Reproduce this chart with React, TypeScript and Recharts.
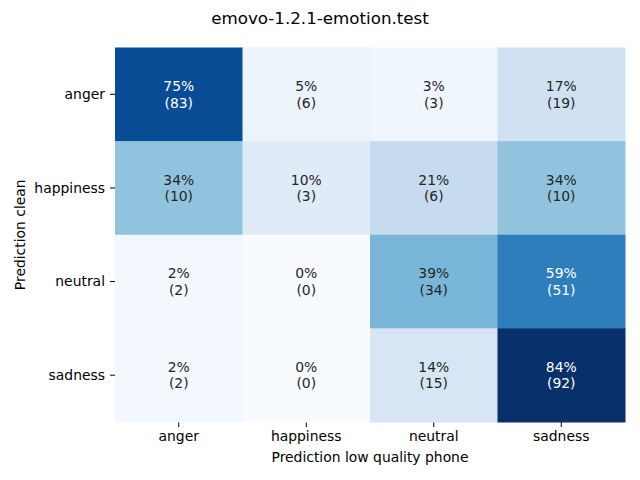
import { ScatterChart, Scatter, XAxis, YAxis, Label } from 'recharts';

const labels = ['anger', 'happiness', 'neutral', 'sadness'];

// rows = clean prediction, columns = low quality phone prediction
const percents = [
  [75, 5, 3, 17],
  [34, 10, 21, 34],
  [2, 0, 39, 59],
  [2, 0, 14, 84],
];

const counts = [
  [83, 6, 3, 19],
  [10, 3, 6, 10],
  [2, 0, 34, 51],
  [2, 0, 15, 92],
];

const blues = ['#f7fbff', '#deebf7', '#c6dbef', '#9ecae1', '#6baed6', '#4292c6', '#2171b5', '#08519c', '#08306b'];

const hexToRgb = (h: string) => [1, 3, 5].map((i) => parseInt(h.slice(i, i + 2), 16));

const blueScale = (t: number) => {
  const p = Math.max(0, Math.min(1, t)) * (blues.length - 1);
  const i = Math.min(Math.floor(p), blues.length - 2);
  const f = p - i;
  const a = hexToRgb(blues[i]);
  const b = hexToRgb(blues[i + 1]);
  const c = a.map((v, k) => Math.round(v + (b[k] - v) * f));
  return { fill: `rgb(${c.join(',')})`, lum: (0.299 * c[0] + 0.587 * c[1] + 0.114 * c[2]) / 255 };
};

const vmax = Math.max(...percents.flat());

const cells = percents.flatMap((row, r) =>
  row.map((pct, c) => ({ x: c + 0.5, y: r + 0.5, pct, n: counts[r][c] }))
);

const W = 640;
const H = 480;
const margin = { top: 47.5, right: 15, bottom: 18, left: 40 };
const yAxisWidth = 75;
const xAxisHeight = 40;
const cellW = (W - margin.left - margin.right - yAxisWidth) / labels.length;
const cellH = (H - margin.top - margin.bottom - xAxisHeight) / labels.length;
const font = 'DejaVu Sans, sans-serif';

const HeatCell = (props: any) => {
  const { cx, cy, payload } = props;
  const { fill, lum } = blueScale(payload.pct / vmax);
  const color = lum < 0.5 ? '#ffffff' : '#262626';
  return (
    <g>
      <rect x={cx - cellW / 2} y={cy - cellH / 2} width={cellW + 0.5} height={cellH + 0.5} fill={fill} />
      <text x={cx} y={cy - 8.3} textAnchor='middle' dominantBaseline='central' fill={color} fontSize={13.9} fontFamily={font}>
        {`${payload.pct}%`}
      </text>
      <text x={cx} y={cy + 8.3} textAnchor='middle' dominantBaseline='central' fill={color} fontSize={13.9} fontFamily={font}>
        {`(${payload.n})`}
      </text>
    </g>
  );
};

const tickStyle = { fill: '#000000', fontSize: 13.9, fontFamily: font };

const App = () => {
  return (
    <div style={{ position: 'absolute', left: 0, top: 0, width: W, height: H, background: '#fff' }}>
      <div
        style={{
          position: 'absolute',
          top: 8,
          width: W,
          textAlign: 'center',
          fontFamily: font,
          fontSize: 16.7,
          color: '#000',
        }}
      >
        emovo-1.2.1-emotion.test
      </div>
      <ScatterChart width={W} height={H} margin={margin}>
        <XAxis
          type='number'
          dataKey='x'
          domain={[0, 4]}
          ticks={[0.5, 1.5, 2.5, 3.5]}
          tickFormatter={(v: number) => labels[Math.floor(v)]}
          axisLine={false}
          tickLine={{ stroke: '#000' }}
          tickSize={5}
          tickMargin={4}
          tick={tickStyle}
          height={xAxisHeight}
        >
          <Label value='Prediction low quality phone' position='insideBottom' offset={0} style={{ fill: '#000', fontSize: 13.9, fontFamily: font }} />
        </XAxis>
        <YAxis
          type='number'
          dataKey='y'
          domain={[0, 4]}
          reversed
          ticks={[0.5, 1.5, 2.5, 3.5]}
          tickFormatter={(v: number) => labels[Math.floor(v)]}
          axisLine={false}
          tickLine={{ stroke: '#000' }}
          tickSize={5}
          tickMargin={5}
          tick={tickStyle}
          width={yAxisWidth}
        >
          <Label
            value='Prediction clean'
            angle={-90}
            position='insideLeft'
            offset={-20}
            style={{ fill: '#000', fontSize: 13.9, fontFamily: font, textAnchor: 'middle' }}
          />
        </YAxis>
        <Scatter data={cells} shape={HeatCell} isAnimationActive={false} />
      </ScatterChart>
    </div>
  );
};

export default App;
